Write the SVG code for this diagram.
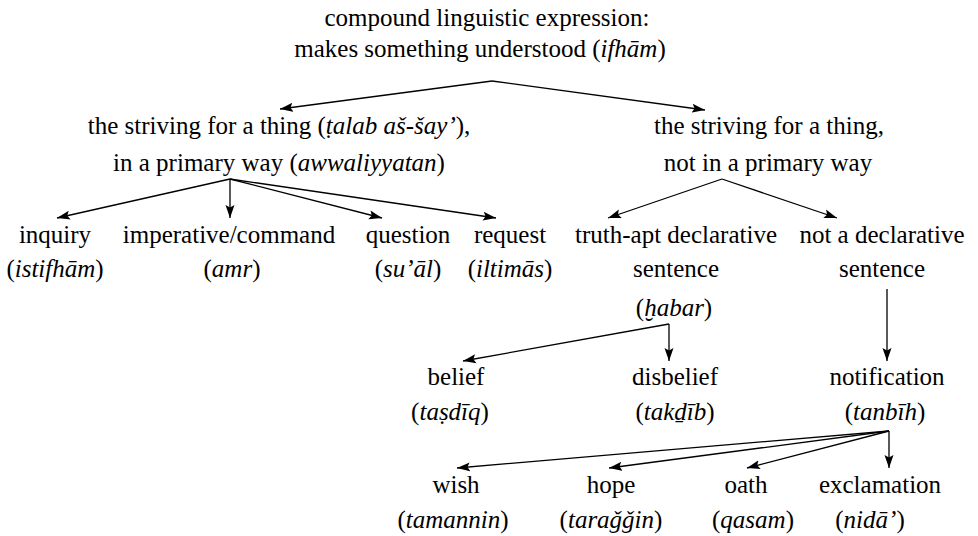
<svg xmlns="http://www.w3.org/2000/svg" width="978" height="536" viewBox="0 0 978 536">
<style>
text{font-family:"Liberation Serif","DejaVu Serif",serif;font-size:25px;fill:#000;text-anchor:middle}
.i{font-style:italic}
.c line{stroke:#000;stroke-width:1.3;marker-end:url(#ah)}
</style>
<defs>
<marker id="ah" markerWidth="14" markerHeight="10" viewBox="0 0 14 10" refX="13" refY="5" orient="auto" markerUnits="userSpaceOnUse">
<path d="M0,0.5 L13,5 L0,9.5 L2.5,5 Z" fill="#000"/>
</marker>
</defs>
<rect width="978" height="536" fill="#fff"/>
<g id="root">
<text x="487" y="26">compound linguistic expression:</text>
<text x="480" y="57">makes something understood (<tspan class="i">ifhām</tspan>)</text>
</g>
<g id="primary">
<text x="279" y="134">the striving for a thing (<tspan class="i">ṭalab aš-šay’</tspan>),</text>
<text x="279" y="171">in a primary way (<tspan class="i">awwaliyyatan</tspan>)</text>
</g>
<g id="nonprimary">
<text x="769" y="134">the striving for a thing,</text>
<text x="768" y="171">not in a primary way</text>
</g>
<g id="inquiry">
<text x="55" y="243">inquiry</text>
<text x="55" y="277">(<tspan class="i">istifhām</tspan>)</text>
</g>
<g id="imperative">
<text x="229" y="243">imperative/command</text>
<text x="232" y="277">(<tspan class="i">amr</tspan>)</text>
</g>
<g id="question">
<text x="408" y="243">question</text>
<text x="408" y="277">(<tspan class="i">su’āl</tspan>)</text>
</g>
<g id="request">
<text x="510" y="243">request</text>
<text x="510" y="277">(<tspan class="i">iltimās</tspan>)</text>
</g>
<g id="declarative">
<text x="676" y="243">truth-apt declarative</text>
<text x="676" y="277">sentence</text>
<text x="674" y="316">(<tspan class="i">ḫabar</tspan>)</text>
</g>
<g id="nondeclarative">
<text x="882" y="243">not a declarative</text>
<text x="882" y="277">sentence</text>
</g>
<g id="belief">
<text x="456" y="385">belief</text>
<text x="450" y="420">(<tspan class="i">taṣdīq</tspan>)</text>
</g>
<g id="disbelief">
<text x="675" y="385">disbelief</text>
<text x="675" y="420">(<tspan class="i">takḏīb</tspan>)</text>
</g>
<g id="notification">
<text x="887" y="385">notification</text>
<text x="885" y="420">(<tspan class="i">tanbīh</tspan>)</text>
</g>
<g id="wish">
<text x="456" y="493">wish</text>
<text x="453" y="528">(<tspan class="i">tamannin</tspan>)</text>
</g>
<g id="hope">
<text x="611" y="493">hope</text>
<text x="611" y="528">(<tspan class="i">taraǧǧin</tspan>)</text>
</g>
<g id="oath">
<text x="746" y="493">oath</text>
<text x="753" y="528">(<tspan class="i">qasam</tspan>)</text>
</g>
<g id="exclamation">
<text x="880" y="493">exclamation</text>
<text x="870" y="528">(<tspan class="i">nidā’</tspan>)</text>
</g>
<g id="connectors" class="c">
<line x1="492" y1="81" x2="280" y2="109"/>
<line x1="492" y1="81" x2="705" y2="110"/>
<line x1="230" y1="179" x2="57" y2="218"/>
<line x1="230" y1="179" x2="230" y2="218"/>
<line x1="230" y1="179" x2="382" y2="218"/>
<line x1="230" y1="179" x2="496" y2="218"/>
<line x1="722" y1="179" x2="608" y2="218"/>
<line x1="722" y1="179" x2="837" y2="218"/>
<line x1="669" y1="324" x2="463" y2="361"/>
<line x1="669" y1="324" x2="669" y2="361"/>
<line x1="887" y1="289" x2="887" y2="361"/>
<line x1="889" y1="431" x2="457" y2="468"/>
<line x1="889" y1="431" x2="609" y2="468"/>
<line x1="889" y1="431" x2="747" y2="468"/>
<line x1="889" y1="431" x2="889" y2="468"/>
</g>
</svg>
